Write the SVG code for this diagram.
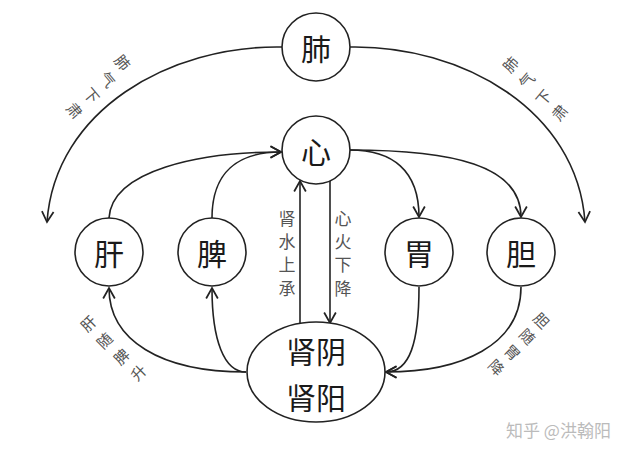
<svg xmlns="http://www.w3.org/2000/svg" width="640" height="455" viewBox="0 0 640 455">
<defs>
<style>
.node{fill:#fff;stroke:#222;stroke-width:1.6}
.nt{font-family:"Noto Sans CJK SC","Noto Sans CJK JP",sans-serif;font-size:30px;fill:#1a1a1a;text-anchor:middle;dominant-baseline:central}
.lab{font-family:"Noto Sans CJK SC","Noto Sans CJK JP",sans-serif;font-size:15px;fill:#555;text-anchor:middle;dominant-baseline:central}
.vl{font-family:"Noto Sans CJK SC","Noto Sans CJK JP",sans-serif;font-size:17px;fill:#555;text-anchor:middle;dominant-baseline:central}
.edge{fill:none;stroke:#222;stroke-width:1.6;marker-end:url(#arr)}
.wm{font-family:"Noto Sans CJK SC","Noto Sans CJK JP",sans-serif;font-size:17px;fill:#bbb}
</style>
<marker id="arr" markerUnits="userSpaceOnUse" markerWidth="14" markerHeight="14" refX="10" refY="6" orient="auto" viewBox="0 0 12 12">
<path d="M1,1 L10,6 L1,11" fill="none" stroke="#222" stroke-width="1.5"/>
</marker>
</defs>
<rect width="640" height="455" fill="#fff"/>
<g id="connectors">
<path class="edge" d="M282,47 C170,45 55,110 47,222"/>
<path class="edge" d="M350,47 C462,45 577,110 585,222"/>
<path class="edge" d="M109,218 C112,170 200,152 281,152"/>
<path class="edge" d="M212,218 C212,172 238,152 281,152"/>
<path class="edge" d="M350,150 C392,150 419,170 419,217"/>
<path class="edge" d="M350,150 C452,150 521,165 521,217"/>
<path class="edge" d="M246,372 C160,372 109,340 109,288"/>
<path class="edge" d="M246,372 C224,372 212,340 212,288"/>
<path class="edge" d="M419,287 C419,342 410,372 386,372"/>
<path class="edge" d="M521,287 C521,345 462,372 386,372"/>
<path class="edge" d="M300,323 L300,181"/>
<path class="edge" d="M330,181 L330,323"/>
</g>
<g id="node-fei"><circle class="node" cx="316" cy="47" r="34"/><text class="nt" x="316" y="47">肺</text></g>
<g id="node-xin"><circle class="node" cx="316" cy="150" r="34"/><text class="nt" x="316" y="150">心</text></g>
<g id="node-gan"><circle class="node" cx="109" cy="252" r="34"/><text class="nt" x="109" y="252">肝</text></g>
<g id="node-pi"><circle class="node" cx="212" cy="252" r="34"/><text class="nt" x="212" y="252">脾</text></g>
<g id="node-wei"><circle class="node" cx="419" cy="252" r="34"/><text class="nt" x="419" y="252">胃</text></g>
<g id="node-dan"><circle class="node" cx="521" cy="252" r="34"/><text class="nt" x="521" y="252">胆</text></g>
<g id="node-shen"><ellipse class="node" cx="316" cy="372" rx="69" ry="50"/><text class="nt" x="316" y="350">肾阴</text><text class="nt" x="316" y="396">肾阳</text></g>
<g id="labels">
<text class="lab" transform="translate(123,62) rotate(50)">肺</text>
<text class="lab" transform="translate(108,79) rotate(50)">气</text>
<text class="lab" transform="translate(92,95) rotate(50)">下</text>
<text class="lab" transform="translate(75,110) rotate(50)">肃</text>
<text class="lab" transform="translate(510,64) rotate(-50)">肺</text>
<text class="lab" transform="translate(526,80) rotate(-50)">气</text>
<text class="lab" transform="translate(543,97) rotate(-50)">下</text>
<text class="lab" transform="translate(559,112) rotate(-50)">肃</text>
<text class="lab" transform="translate(88,323) rotate(-45)">肝</text>
<text class="lab" transform="translate(104,340) rotate(-45)">随</text>
<text class="lab" transform="translate(121,356) rotate(-45)">脾</text>
<text class="lab" transform="translate(138,372) rotate(-45)">升</text>
<text class="lab" transform="translate(542,320) rotate(45)">胆</text>
<text class="lab" transform="translate(528,336) rotate(45)">随</text>
<text class="lab" transform="translate(513,352) rotate(45)">胃</text>
<text class="lab" transform="translate(497,367) rotate(45)">降</text>
<text class="vl" x="287" y="217">肾</text>
<text class="vl" x="287" y="240">水</text>
<text class="vl" x="287" y="263">上</text>
<text class="vl" x="287" y="287">承</text>
<text class="vl" x="343" y="217">心</text>
<text class="vl" x="343" y="240">火</text>
<text class="vl" x="343" y="263">下</text>
<text class="vl" x="343" y="287">降</text>
</g>
<text class="wm" x="506" y="437">知乎 @洪翰阳</text>
</svg>
